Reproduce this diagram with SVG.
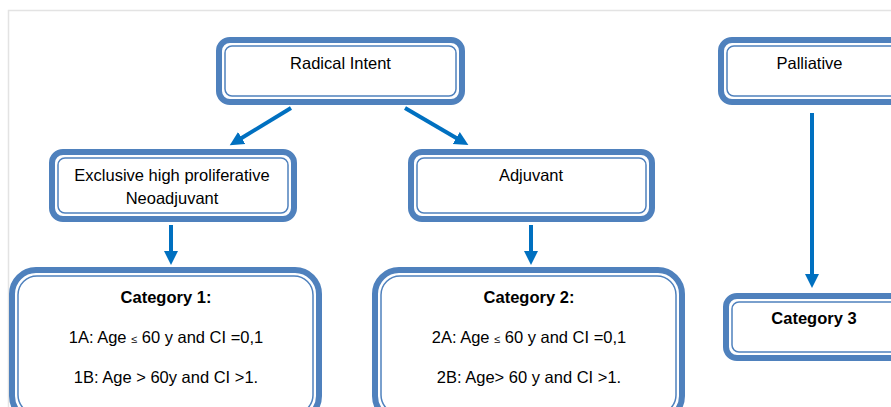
<svg xmlns="http://www.w3.org/2000/svg" width="891" height="407" viewBox="0 0 891 407">
<defs>
<style>
.o{fill:#fff;stroke:#4f81bd;stroke-width:6}
.i{fill:none;stroke:#4f81bd;stroke-width:1.5}
.t{font-family:"Liberation Sans",Arial,sans-serif;font-size:16.5px;fill:#000;text-anchor:middle}
.b{font-weight:bold}
.s{font-size:11px}
.c{stroke:#0070c0;stroke-width:4;fill:none;marker-end:url(#ah)}
.frame{stroke:#e3e3e3;stroke-width:1.5;fill:none}
</style>
<marker id="ah" markerUnits="userSpaceOnUse" markerWidth="16" markerHeight="16" refX="2" refY="8" orient="auto">
<path d="M0,1 L14,8 L0,15 Z" fill="#0070c0"/>
</marker>
</defs>
<rect width="891" height="407" fill="#fff"/>
<path class="frame" d="M8.5,407 V10.5 H891"/>
<g id="radical">
<rect class="o" x="219" y="40" width="243" height="62" rx="11"/>
<rect class="i" x="225" y="46" width="231" height="50" rx="7"/>
<text class="t" x="340.5" y="69">Radical Intent</text>
</g>
<g id="palliative">
<rect class="o" x="721" y="40" width="190" height="62" rx="11"/>
<rect class="i" x="727" y="46" width="178" height="50" rx="7"/>
<text class="t" x="809.5" y="69">Palliative</text>
</g>
<g id="exclusive">
<rect class="o" x="52" y="152" width="242" height="67" rx="11"/>
<rect class="i" x="58" y="158" width="230" height="55" rx="7"/>
<text class="t" x="172" y="181">Exclusive high proliferative</text>
<text class="t" x="172" y="204">Neoadjuvant</text>
</g>
<g id="adjuvant">
<rect class="o" x="411" y="152" width="241" height="67" rx="11"/>
<rect class="i" x="417" y="158" width="229" height="55" rx="7"/>
<text class="t" x="531" y="181">Adjuvant</text>
</g>
<g id="cat1">
<rect class="o" x="12" y="270" width="307" height="150" rx="24"/>
<rect class="i" x="18" y="276" width="295" height="138" rx="19"/>
<text class="t b" x="166" y="303">Category 1:</text>
<text class="t" x="166" y="343">1A: Age <tspan class="s">≤</tspan> 60 y and CI =0,1</text>
<text class="t" x="166" y="383">1B: Age &gt; 60y and CI &gt;1.</text>
</g>
<g id="cat2">
<rect class="o" x="375" y="270" width="307" height="150" rx="24"/>
<rect class="i" x="381" y="276" width="295" height="138" rx="19"/>
<text class="t b" x="529" y="303">Category 2:</text>
<text class="t" x="529" y="343">2A: Age <tspan class="s">≤</tspan> 60 y and CI =0,1</text>
<text class="t" x="529" y="383">2B: Age&gt; 60 y and CI &gt;1.</text>
</g>
<g id="cat3">
<rect class="o" x="726" y="296" width="190" height="62" rx="11"/>
<rect class="i" x="732" y="302" width="178" height="50" rx="7"/>
<text class="t b" x="814" y="324">Category 3</text>
</g>
<g id="connectors">
<line class="c" x1="291" y1="108" x2="240" y2="139"/>
<line class="c" x1="405" y1="108" x2="458" y2="139"/>
<line class="c" x1="171" y1="225" x2="171" y2="253"/>
<line class="c" x1="531" y1="225" x2="531" y2="253"/>
<line class="c" x1="812" y1="113" x2="812" y2="276"/>
</g>
</svg>
